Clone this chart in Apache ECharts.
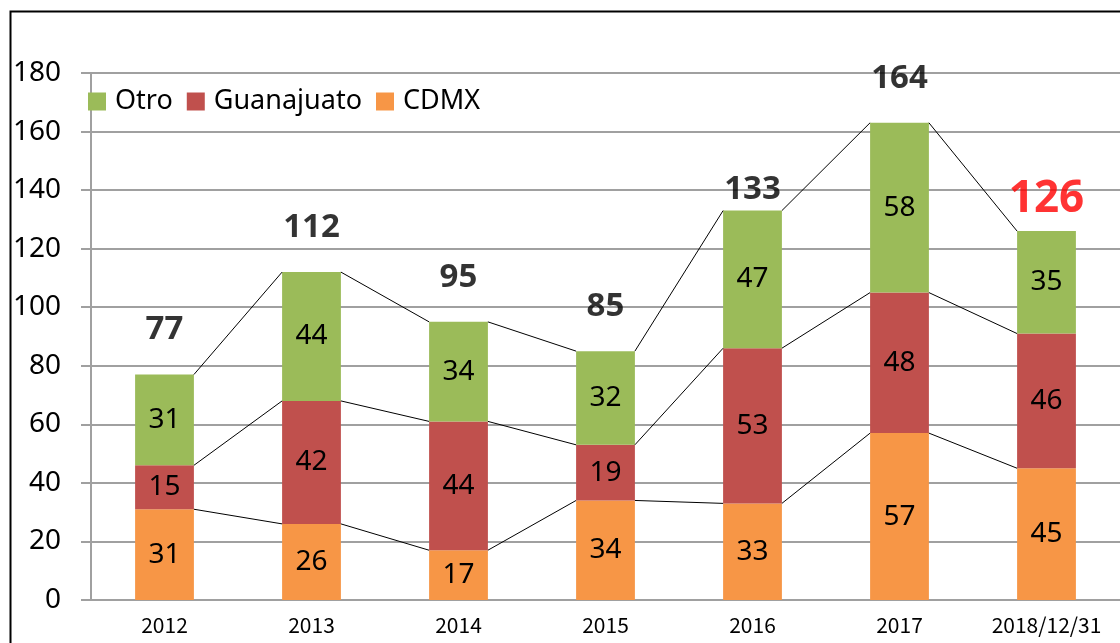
<!DOCTYPE html>
<html lang="es" style="height: 100%">
<head>
  <meta charset="utf-8">
</head>
<body style="height: 100%; margin: 0; background: #fff">
  <div id="container" style="width:1120px;height:643px"></div>

  <script type="text/javascript" src="https://fastly.jsdelivr.net/npm/echarts@6.0.0/dist/echarts.min.js"></script>
  <script type="text/javascript">
    // datos
    var years = ['2012', '2013', '2014', '2015', '2016', '2017', '2018/12/31'];
    var cdmx = [31, 26, 17, 34, 33, 57, 45];
    var guanajuato = [15, 42, 44, 19, 53, 48, 46];
    var otro = [31, 44, 34, 32, 47, 58, 35];
    var totals = [77, 112, 95, 85, 133, 164, 126];
    var yTicks = [0, 20, 40, 60, 80, 100, 120, 140, 160, 180];

    var dom = document.getElementById('container');
    var myChart = echarts.init(dom, null, { renderer: 'canvas' });

    var gridGray = '#a0a0a0';
    var font = 'Noto Sans';

    // niveles acumulados para las líneas de serie
    var lvl1 = cdmx.slice();
    var lvl2 = cdmx.map(function (v, i) { return v + guanajuato[i]; });
    var lvl3 = lvl2.map(function (v, i) { return v + otro[i]; });
    var seriesLineData = [];
    for (var i = 0; i < years.length - 1; i++) {
      seriesLineData.push([i, lvl1[i], lvl2[i], lvl3[i], lvl1[i + 1], lvl2[i + 1], lvl3[i + 1]]);
    }

    function segLabel() {
      return {
        show: true,
        position: 'inside',
        fontFamily: font,
        fontSize: 28,
        color: '#000'
      };
    }

    var option = {
      animation: false,
      color: ['#9BBB59', '#C0504D', '#F79646'],
      graphic: [{
        type: 'rect',
        left: 8,
        top: 9,
        shape: { width: 1200, height: 700 },
        style: { fill: 'none', stroke: '#000', lineWidth: 2 },
        z: 100
      }],
      legend: {
        left: 83,
        top: 83,
        itemWidth: 18,
        itemHeight: 18,
        itemGap: 14,
        icon: 'rect',
        data: ['Otro', 'Guanajuato', 'CDMX'],
        textStyle: { fontFamily: font, fontSize: 27, color: '#000', padding: [0, 0, 0, 4] }
      },
      grid: {
        left: 91,
        right: 0,
        top: 73,
        bottom: 43,
        containLabel: false
      },
      xAxis: {
        type: 'category',
        data: years,
        axisLine: { show: true, lineStyle: { color: gridGray, width: 2 } },
        axisTick: { show: false },
        axisLabel: {
          fontFamily: 'Noto Sans CJK JP',
          fontSize: 21,
          color: '#000',
          margin: 15
        }
      },
      yAxis: {
        type: 'value',
        min: yTicks[0],
        max: yTicks[yTicks.length - 1],
        interval: 20,
        axisLine: { show: true, lineStyle: { color: gridGray, width: 2 } },
        axisTick: { show: true, length: 10, lineStyle: { color: gridGray, width: 2 } },
        splitLine: { show: true, lineStyle: { color: gridGray, width: 2 } },
        axisLabel: {
          fontFamily: font,
          fontSize: 28,
          color: '#000',
          margin: 30
        }
      },
      series: [
        {
          name: 'CDMX',
          type: 'bar',
          stack: 'total',
          barWidth: '40%',
          data: cdmx,
          itemStyle: { color: '#F79646' },
          label: segLabel()
        },
        {
          name: 'Guanajuato',
          type: 'bar',
          stack: 'total',
          data: guanajuato,
          itemStyle: { color: '#C0504D' },
          label: segLabel()
        },
        {
          name: 'Otro',
          type: 'bar',
          stack: 'total',
          data: otro,
          itemStyle: { color: '#9BBB59' },
          label: segLabel()
        },
        {
          // líneas de serie entre columnas
          type: 'custom',
          silent: true,
          z: 5,
          data: seriesLineData,
          renderItem: function (params, api) {
            var idx = api.value(0);
            var half = api.size([1, 0])[0] * 0.2;
            var children = [];
            for (var k = 1; k <= 3; k++) {
              var p1 = api.coord([idx, api.value(k)]);
              var p2 = api.coord([idx + 1, api.value(k + 3)]);
              children.push({
                type: 'line',
                shape: { x1: p1[0] + half, y1: p1[1], x2: p2[0] - half, y2: p2[1] },
                style: { stroke: '#000', lineWidth: 1 }
              });
            }
            return { type: 'group', children: children };
          }
        },
        {
          // totales sobre cada columna
          type: 'scatter',
          symbolSize: 0,
          silent: true,
          z: 10,
          data: totals.map(function (v, i) {
            var item = { value: [i, lvl3[i]] };
            if (i === 4) {
              item.label = { distance: 5 };
            }
            if (i === totals.length - 1) {
              item.label = { color: '#ff0000', fontSize: 44, distance: 10 };
            }
            return item;
          }),
          label: {
            show: true,
            position: 'top',
            distance: 28,
            fontFamily: font,
            fontWeight: 'bold',
            fontSize: 33,
            color: '#000',
            formatter: function (p) { return totals[p.dataIndex]; }
          }
        }
      ]
    };

    myChart.setOption(option);
    window.addEventListener('resize', myChart.resize);
  </script>
</body>
</html>
